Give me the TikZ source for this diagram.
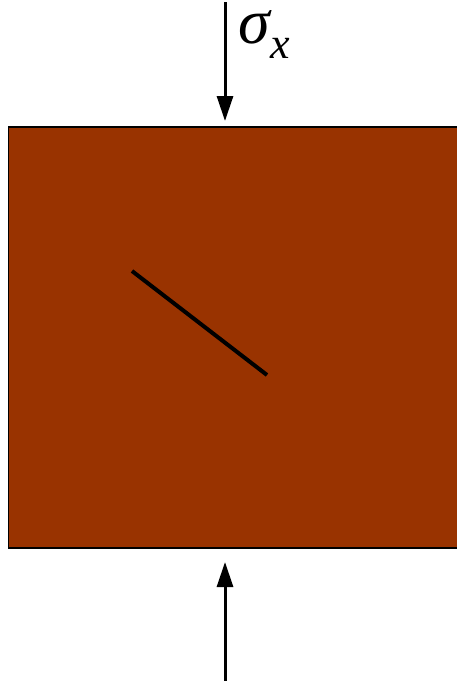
\documentclass[tikz,border=0pt]{standalone}
\usepackage{fontspec}
\setmainfont{Liberation Serif}
\usetikzlibrary{arrows.meta}
\definecolor{rock}{HTML}{993300}
\begin{document}
\begin{tikzpicture}[x=1pt,y=-1pt,
  force/.style={line width=3pt,-{Triangle[length=25pt,width=16pt]}},
  crack/.style={line width=4pt}]
\useasboundingbox (0,0) rectangle (457,681);
\fill[rock,draw=black,line width=1.5pt] (8.5,127) rectangle (470,548);
\coordinate (t0) at (225,2);
\coordinate (t1) at (225,121);
\coordinate (b0) at (225,681);
\coordinate (b1) at (225,562);
\draw[force] (t0) -- (t1);
\draw[force] (b0) -- (b1);
\coordinate (c0) at (132,271);
\coordinate (c1) at (267,375);
\draw[crack] (c0) -- (c1);
\node[anchor=base west,inner sep=0pt] (lab) at (238,43) {\smash{\fontsize{64}{64}\selectfont\itshape σ\kern1pt\raisebox{-15pt}{\fontsize{44}{44}\selectfont x}}};
\end{tikzpicture}
\end{document}
